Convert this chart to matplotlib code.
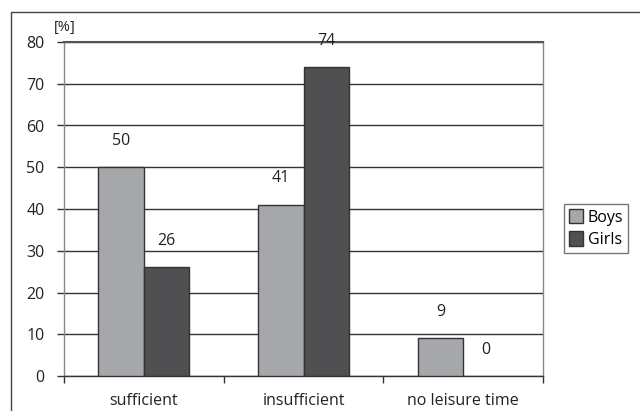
import matplotlib
matplotlib.use("Agg")
import matplotlib.pyplot as plt
from matplotlib.patches import Rectangle
import numpy as np

categories = ["sufficient", "insufficient", "no leisure time"]
boys = [50, 41, 9]
girls = [26, 74, 0]
series_names = ["Boys", "Girls"]
y_ticks = [0, 10, 20, 30, 40, 50, 60, 70, 80]

plt.rcParams["font.family"] = ["Open Sans", "DejaVu Sans"]
FS = 11.5

fig = plt.figure(figsize=(6.4, 4.11), dpi=100)
W, H = 640, 411

# outer chart frame
fig.patches.append(Rectangle((11 / W, -0.1), 1.0, (H - 12) / H + 0.1,
                             transform=fig.transFigure, fill=False,
                             edgecolor="#444444", linewidth=1.0))

ax = fig.add_axes([64 / W, 35 / H, (543 - 64) / W, (376 - 42) / H])

x = np.arange(len(categories))
bw = 0.285
b1 = ax.bar(x - bw / 2, boys, bw, color="#a6a7aa", edgecolor="#333333",
            linewidth=[1.0 if v else 0 for v in boys], label=series_names[0],
            zorder=3)
b2 = ax.bar(x + bw / 2, girls, bw, color="#505052", edgecolor="#333333",
            linewidth=[1.0 if v else 0 for v in girls], label=series_names[1],
            zorder=3)

for bars, vals in ((b1, boys), (b2, girls)):
    for r, v in zip(bars, vals):
        ax.annotate(f"{v}", (r.get_x() + r.get_width() / 2, v),
                    xytext=(0, 19), textcoords="offset points",
                    ha="center", va="center", fontsize=FS, color="#222222")

ax.set_xlim(-0.5, len(categories) - 0.5)
ax.set_ylim(0, 80)
ax.set_yticks(y_ticks)
ax.set_yticklabels([str(t) for t in y_ticks])
ax.yaxis.grid(True, color="#333333", linewidth=1.0, zorder=0)
ax.set_axisbelow(True)

ax.set_xticks(x)
ax.set_xticklabels(categories)
ax.set_xticks(np.arange(len(categories) + 1) - 0.5, minor=True)
ax.tick_params(axis="x", which="major", length=0, pad=12, labelsize=FS,
               labelcolor="#222222")
ax.tick_params(axis="x", which="minor", length=5, width=1, color="#333333",
               direction="out")
ax.tick_params(axis="y", length=5, width=1, color="#333333", pad=9,
               labelsize=FS, labelcolor="#222222")

for side in ("left", "right"):
    ax.spines[side].set_color("#888888")
    ax.spines[side].set_linewidth(1.0)
ax.spines["top"].set_color("#555555")
ax.spines["top"].set_linewidth(1.5)
ax.spines["bottom"].set_color("#333333")
ax.spines["bottom"].set_linewidth(1.0)

fig.text(65 / W, 1 - 28 / H, "[%]", ha="center", va="center",
         fontsize=10.5, color="#222222")

leg = fig.legend(handles=[b1, b2], labels=series_names,
                 loc="center", bbox_to_anchor=(596 / W, 1 - 228.5 / H),
                 fontsize=FS, frameon=True, fancybox=False,
                 edgecolor="#555555", handlelength=0.9, handleheight=1.0,
                 handletextpad=0.3, borderpad=0.3, labelspacing=0.35,
                 borderaxespad=0)
leg.get_frame().set_linewidth(1.0)
for h in leg.legend_handles:
    h.set_linewidth(1.0)

fig.savefig("out.png", dpi=100)
